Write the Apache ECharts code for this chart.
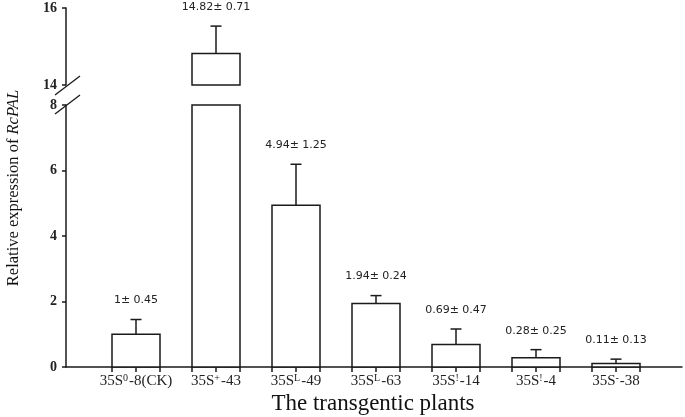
<!DOCTYPE html>
<html>
<head>
<meta charset="utf-8">
<script src="https://cdn.jsdelivr.net/npm/echarts@6/dist/echarts.min.js"></script>
<style>html,body{margin:0;padding:0;background:#fff}#c{width:685px;height:417px}</style>
</head>
<body>
<div id="c"></div>
<script>
// ---- data ----
const labelPrefix = ['35S', '35S', '35S', '35S', '35S', '35S', '35S'];
const labelSup = ['0', '+', 'L', 'L', '!', '!', '-'];
const labelSuffix = ['-8(CK)', '-43', '-49', '-63', '-14', '-4', '-38'];
const means = [1, 14.82, 4.94, 1.94, 0.69, 0.28, 0.11];
const errors = [0.45, 0.71, 1.25, 0.24, 0.47, 0.25, 0.13];
const lowerTicks = [0, 2, 4, 6, 8];
const upperTicks = [14, 16];

const SERIF = '"Liberation Serif", "Times New Roman", serif';
const lowMin = lowerTicks[0], lowMax = lowerTicks[lowerTicks.length - 1];
const upMin = upperTicks[0], upMax = upperTicks[upperTicks.length - 1];
const HALF = 0.3;

const idx = means.map((_, i) => i);
const edgeTicks = [];
idx.forEach(i => { edgeTicks.push(i - HALF, i, i + HALF); });

const seriesData = means.map((m, i) => [i, m, errors[i]]);

function makeRender(lo, hi) {
  return function (params, api) {
    const i = api.value(0), v = api.value(1), e = api.value(2);
    if (v <= lo) return null;
    const top = Math.min(v, hi);
    const p0 = api.coord([i - HALF, lo]);
    const p1 = api.coord([i + HALF, top]);
    const children = [{
      type: 'rect',
      shape: { x: p0[0], y: p1[1], width: p1[0] - p0[0], height: p0[1] - p1[1] },
      style: { fill: '#fff', stroke: '#1a1a1a', lineWidth: 1.5 }
    }];
    if (v <= hi) {
      const a = api.coord([i, v]);
      const b = api.coord([i, v + e]);
      children.push({ type: 'line', shape: { x1: a[0], y1: a[1], x2: b[0], y2: b[1] }, style: { stroke: '#1a1a1a', lineWidth: 1.5 } });
      children.push({ type: 'line', shape: { x1: b[0] - 5.5, y1: b[1], x2: b[0] + 5.5, y2: b[1] }, style: { stroke: '#1a1a1a', lineWidth: 1.5 } });
      children.push({
        type: 'text',
        x: b[0], y: b[1] - 19,
        style: {
          text: String(v) + '\u00b1 ' + e.toFixed(2),
          align: 'center', verticalAlign: 'middle',
          font: '11px "DejaVu Sans", Verdana, sans-serif', fill: '#222'
        }
      });
    }
    return { type: 'group', children };
  };
}

const chart = echarts.init(document.getElementById('c'), null, { renderer: 'canvas' });
const xMin = -0.875, xMax = 6.825;
function yAxisOpts(extra) {
  return Object.assign({
    type: 'value',
    axisLine: { show: true, onZero: false, lineStyle: { color: '#1a1a1a', width: 1.5 } },
    axisTick: { show: true, inside: false, length: 4, lineStyle: { color: '#1a1a1a', width: 1.5 } },
    axisLabel: { color: '#222', fontFamily: SERIF, fontSize: 14, fontWeight: 'bold', margin: 9 },
    splitLine: { show: false }
  }, extra);
}
chart.setOption({
  animation: false,
  grid: [
    { left: 66, right: 3, top: 8, height: 77 },
    { left: 66, right: 3, top: 105, height: 262 }
  ],
  xAxis: [
    { gridIndex: 0, type: 'value', min: xMin, max: xMax, show: false },
    {
      gridIndex: 1, type: 'value', min: xMin, max: xMax,
      axisLine: { show: true, onZero: false, lineStyle: { color: '#1a1a1a', width: 1.5 } },
      axisTick: { show: true, length: 5, customValues: edgeTicks, lineStyle: { color: '#1a1a1a', width: 1.5 } },
      axisLabel: {
        customValues: idx, margin: 6, color: '#222', fontFamily: SERIF, fontSize: 15,
        formatter: v => labelPrefix[v] + '{s|' + labelSup[v] + '}' + labelSuffix[v],
        rich: { s: { fontSize: 10, fontFamily: SERIF, color: '#222', verticalAlign: 'top', padding: [0, 1, 7, 0] } }
      },
      splitLine: { show: false }
    }
  ],
  yAxis: [
    yAxisOpts({ gridIndex: 0, min: upMin, max: upMax, interval: upperTicks[1] - upperTicks[0] }),
    yAxisOpts({ gridIndex: 1, min: lowMin, max: lowMax, interval: lowerTicks[1] - lowerTicks[0] })
  ],
  series: [
    { type: 'custom', xAxisIndex: 0, yAxisIndex: 0, data: seriesData, renderItem: makeRender(upMin, upMax), clip: false },
    { type: 'custom', xAxisIndex: 1, yAxisIndex: 1, data: seriesData, renderItem: makeRender(lowMin, lowMax), clip: false }
  ],
  graphic: [
    { type: 'line', shape: { x1: 55, y1: 95, x2: 80, y2: 76 }, style: { stroke: '#1a1a1a', lineWidth: 1.3 } },
    { type: 'line', shape: { x1: 55, y1: 114, x2: 80, y2: 95 }, style: { stroke: '#1a1a1a', lineWidth: 1.3 } },
    {
      type: 'text', x: 14, y: 188, rotation: Math.PI / 2,
      style: {
        text: 'Relative expression of {i|RcPAL}',
        align: 'center', verticalAlign: 'middle',
        font: '16.5px ' + SERIF, fill: '#111',
        rich: { i: { fontStyle: 'italic', fontSize: 16.5, fontFamily: SERIF, fill: '#111' } }
      }
    },
    {
      type: 'text', x: 373, y: 404,
      style: {
        text: 'The transgentic plants',
        align: 'center', verticalAlign: 'middle',
        font: '23px ' + SERIF, fill: '#111'
      }
    }
  ]
});
</script>
</body>
</html>
